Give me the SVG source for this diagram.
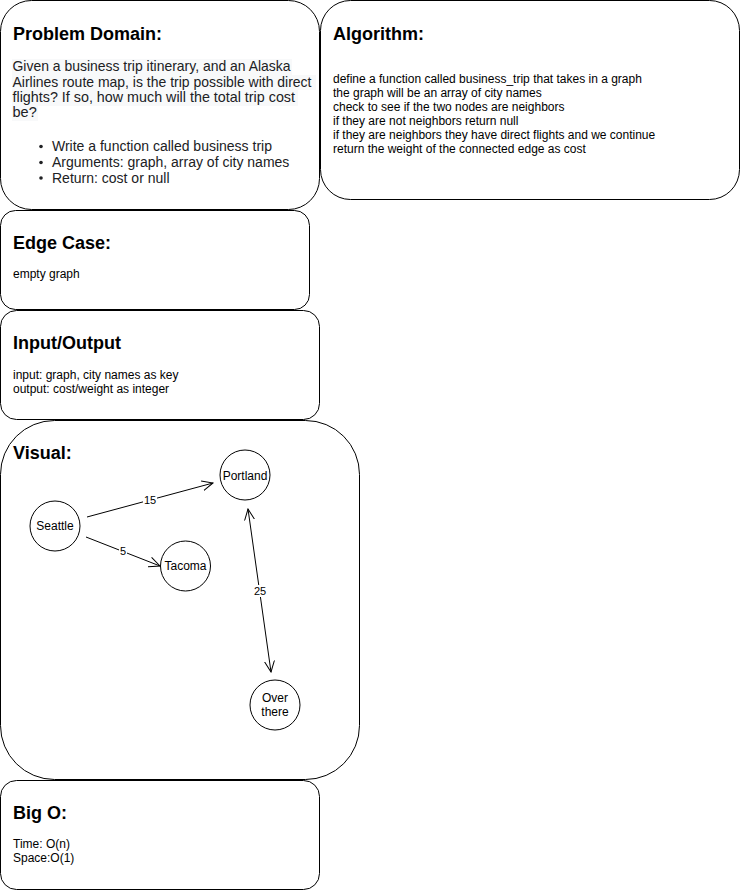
<svg xmlns="http://www.w3.org/2000/svg" width="741" height="891" viewBox="0 0 741 891">
<style>
.box{fill:#fff;stroke:#000;stroke-width:1}
.t{font-family:"Liberation Sans",Arial,sans-serif;fill:#000}
.h{font-size:18px;font-weight:bold}
.s{font-size:12px}
.m{font-size:14px;fill:#202124}
.p{font-size:14.5px;fill:#202124}
.n{fill:#fff;stroke:#000;stroke-width:1}
.e{stroke:#000;stroke-width:1;fill:none}
.lb{font-family:"Liberation Sans",Arial,sans-serif;font-size:11px;text-anchor:middle}
</style>
<defs>
<marker id="op" viewBox="0 0 12 12" refX="11" refY="6" markerWidth="12" markerHeight="12" markerUnits="userSpaceOnUse" orient="auto-start-reverse">
<path d="M0,1 L11,6 L0,11" fill="none" stroke="#000" stroke-width="1"/>
</marker>
</defs>
<g id="problem">
<rect class="box" x="0.5" y="0.5" width="319" height="209" rx="31"/>
<text class="t h" x="13" y="40">Problem Domain:</text>
<g fill="#f8f9fa"><rect x="12" y="59" width="280" height="16"/><rect x="12" y="75" width="304" height="15"/><rect x="12" y="90" width="286" height="16"/><rect x="12" y="106" width="26" height="15"/></g>
<text class="t p" x="12.5" y="71" textLength="278" lengthAdjust="spacingAndGlyphs">Given a business trip itinerary, and an Alaska</text>
<text class="t p" x="12.5" y="86.5" textLength="299" lengthAdjust="spacingAndGlyphs">Airlines route map, is the trip possible with direct</text>
<text class="t p" x="12.5" y="102" textLength="282.5" lengthAdjust="spacingAndGlyphs">flights? If so, how much will the total trip cost</text>
<text class="t p" x="12.5" y="117">be?</text>
<circle cx="41" cy="146.5" r="1.8" fill="#202124"/>
<circle cx="41" cy="162.5" r="1.8" fill="#202124"/>
<circle cx="41" cy="178" r="1.8" fill="#202124"/>
<text class="t m" x="52" y="151">Write a function called business trip</text>
<text class="t m" x="52" y="167">Arguments: graph, array of city names</text>
<text class="t m" x="52" y="183">Return: cost or null</text>
</g>
<g id="algorithm">
<rect class="box" x="320.5" y="0.5" width="419" height="199" rx="30"/>
<text class="t h" x="333" y="40">Algorithm:</text>
<text class="t s" x="333" y="83">define a function called business_trip that takes in a graph</text>
<text class="t s" x="333" y="97">the graph will be an array of city names</text>
<text class="t s" x="333" y="111">check to see if the two nodes are neighbors</text>
<text class="t s" x="333" y="125">if they are not neighbors return null</text>
<text class="t s" x="333" y="139">if they are neighbors they have direct flights and we continue</text>
<text class="t s" x="333" y="153">return the weight of the connected edge as cost</text>
</g>
<g id="edgecase">
<rect class="box" x="0.5" y="210.5" width="309" height="99" rx="15"/>
<text class="t h" x="13" y="249">Edge Case:</text>
<text class="t s" x="13" y="278">empty graph</text>
</g>
<g id="io">
<rect class="box" x="0.5" y="310.5" width="319" height="109" rx="16"/>
<text class="t h" x="13" y="349">Input/Output</text>
<text class="t s" x="13" y="379">input: graph, city names as key</text>
<text class="t s" x="13" y="393">output: cost/weight as integer</text>
</g>
<g id="visual">
<rect class="box" x="0.5" y="420.5" width="359" height="359" rx="54"/>
<text class="t h" x="13" y="459">Visual:</text>
</g>
<g id="bigo">
<rect class="box" x="0.5" y="780.5" width="319" height="109" rx="16"/>
<text class="t h" x="13" y="819">Big O:</text>
<text class="t s" x="13" y="848">Time: O(n)</text>
<text class="t s" x="13" y="862">Space:O(1)</text>
</g>
<g id="connectors">
<line class="e" x1="87" y1="517" x2="213" y2="483" marker-end="url(#op)"/>
<line class="e" x1="86" y1="537" x2="160" y2="566" marker-end="url(#op)"/>
<line class="e" x1="248" y1="509" x2="271" y2="672" marker-start="url(#op)" marker-end="url(#op)"/>
<rect x="143" y="494" width="14" height="12" fill="#fff"/>
<text class="lb" x="150" y="504">15</text>
<rect x="119" y="545" width="8" height="12" fill="#fff"/>
<text class="lb" x="123" y="555">5</text>
<rect x="253" y="585" width="14" height="12" fill="#fff"/>
<text class="lb" x="260" y="595">25</text>
</g>
<g id="seattle">
<circle class="n" cx="55" cy="526" r="25"/>
<text class="lb" x="55" y="530" style="font-size:12px">Seattle</text>
</g>
<g id="portland">
<circle class="n" cx="245" cy="475" r="25"/>
<text class="lb" x="245" y="480" style="font-size:12px">Portland</text>
</g>
<g id="tacoma">
<circle class="n" cx="185.5" cy="566" r="25"/>
<text class="lb" x="185.5" y="570" style="font-size:12px">Tacoma</text>
</g>
<g id="overthere">
<circle class="n" cx="275" cy="705" r="25"/>
<text class="lb" x="275" y="702" style="font-size:12px">Over</text>
<text class="lb" x="275" y="716" style="font-size:12px">there</text>
</g>
</svg>
